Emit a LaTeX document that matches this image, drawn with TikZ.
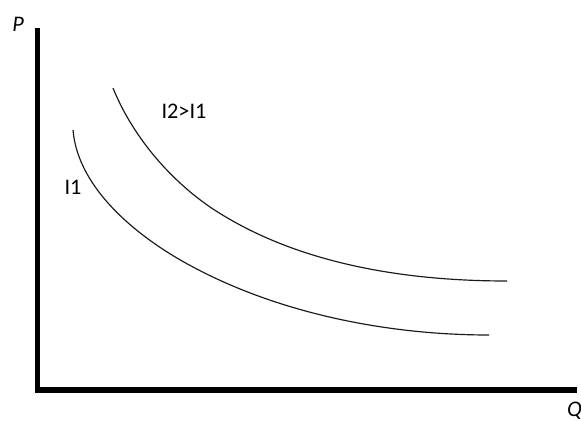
\documentclass[tikz,border=0pt]{standalone}
\usepackage{fontspec}
\setmainfont{Carlito}
\usepackage{tikz}
\usetikzlibrary{positioning, calc}
\usepackage{xcolor}
\definecolor{axisblack}{HTML}{000000}
\definecolor{curvegray}{HTML}{1A1A1A}

\begin{document}
\begin{tikzpicture}[x=0.03cm, y=-0.03cm,
    axisline/.style={draw=axisblack, line width=4.3pt, line join=miter},
    icurve/.style={draw=curvegray, line width=1pt},
    curvelabel/.style={font=\fontsize{19}{22}\selectfont, inner sep=0pt},
    axislabel/.style={font=\fontsize{19}{22}\selectfont\itshape, inner sep=0pt}]
    \useasboundingbox (0,0) rectangle (581,421);
    \coordinate (ytop) at (37.5,28);
    \coordinate (origin) at (37.5,390);
    \coordinate (xend) at (577,390);
    \draw[axisline] (ytop) -- (origin) -- (xend);
    \node[axislabel] (plabel) at (18,24) {P};
    \node[axislabel, anchor=north west] (qlabel) at (567,402) {Q};
    % lower curve
    \draw[icurve] (73,130) .. controls (78,190) and (140,239) .. (193,267)
                           .. controls (281,314) and (389,335) .. (489,335);
    % upper curve
    \draw[icurve] (113,88) .. controls (132,135) and (168,178) .. (210,207)
                           .. controls (295,264) and (405,281) .. (507,281);
    \node[curvelabel] (ione) at (73,187) {I1};
    \node[curvelabel] (itwo) at (184,111) {I2>I1};
  \end{tikzpicture}
\end{document}
